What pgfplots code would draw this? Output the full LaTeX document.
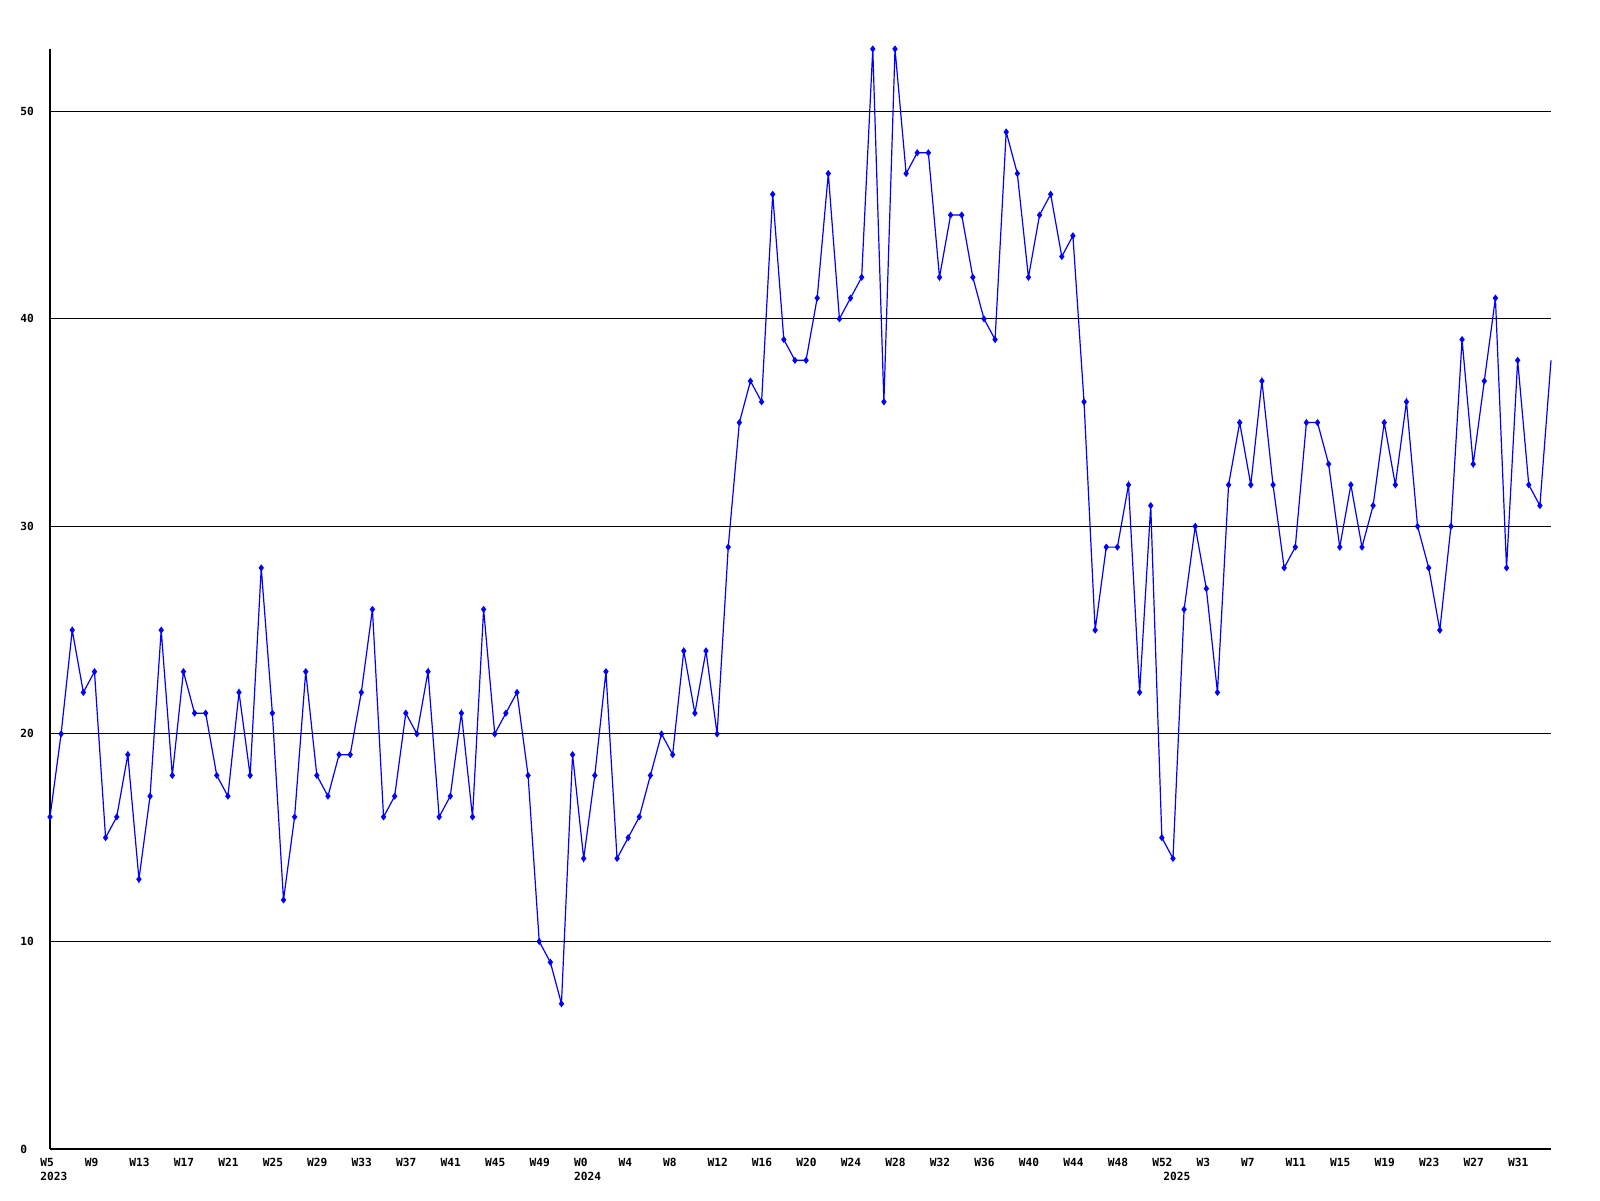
\documentclass[border=0pt]{standalone}
\usepackage{fontspec}
\setmonofont{DejaVu Sans Mono}
\usepackage{pgfplots}
\pgfplotsset{compat=1.18}
\newcommand{\tickfont}{\ttfamily\bfseries\fontsize{5.6}{6}\selectfont}
\begin{document}
\begin{tikzpicture}
\useasboundingbox (-25pt,-25.5pt) rectangle (775pt,574.5pt);
\begin{axis}[
  at={(0pt,0pt)}, anchor=south west,
  scale only axis, width=750.5pt, height=550pt,
  xmin=0, xmax=135, ymin=0, ymax=53,
  axis x line*=bottom, axis y line*=left,
  axis line style={black, line width=0.6pt},
  major tick length=0pt,
  ytick={0,10,20,30,40,50},
  yticklabels={0,10,20,30,40,50},
  ymajorgrids, grid style={black, line width=0.5pt},
  xtick={0,4,...,132},
  xticklabels={W5,W9,W13,W17,W21,W25,W29,W33,W37,W41,W45,W49,W0,W4,W8,W12,W16,W20,W24,W28,W32,W36,W40,W44,W48,W52,W3,W7,W11,W15,W19,W23,W27,W31},
  xticklabel style={font=\tickfont, anchor=north west, inner sep=0pt, xshift=-5pt, yshift=-4.5pt},
  yticklabel style={font=\tickfont, anchor=west, inner sep=0pt, xshift=-15pt},
  clip=false,
]
\addplot[color={rgb,255:red,0;green,0;blue,255}, line width=0.6pt, mark=diamond*, mark size=1.3pt, mark indices={1,...,135}, mark options={fill={rgb,255:red,0;green,0;blue,255}}] coordinates {
(0,16) (1,20) (2,25) (3,22) (4,23) (5,15) (6,16) (7,19) (8,13) (9,17)
(10,25) (11,18) (12,23) (13,21) (14,21) (15,18) (16,17) (17,22) (18,18) (19,28)
(20,21) (21,12) (22,16) (23,23) (24,18) (25,17) (26,19) (27,19) (28,22) (29,26)
(30,16) (31,17) (32,21) (33,20) (34,23) (35,16) (36,17) (37,21) (38,16) (39,26)
(40,20) (41,21) (42,22) (43,18) (44,10) (45,9) (46,7) (47,19) (48,14) (49,18)
(50,23) (51,14) (52,15) (53,16) (54,18) (55,20) (56,19) (57,24) (58,21) (59,24)
(60,20) (61,29) (62,35) (63,37) (64,36) (65,46) (66,39) (67,38) (68,38) (69,41)
(70,47) (71,40) (72,41) (73,42) (74,53) (75,36) (76,53) (77,47) (78,48) (79,48)
(80,42) (81,45) (82,45) (83,42) (84,40) (85,39) (86,49) (87,47) (88,42) (89,45)
(90,46) (91,43) (92,44) (93,36) (94,25) (95,29) (96,29) (97,32) (98,22) (99,31)
(100,15) (101,14) (102,26) (103,30) (104,27) (105,22) (106,32) (107,35) (108,32) (109,37)
(110,32) (111,28) (112,29) (113,35) (114,35) (115,33) (116,29) (117,32) (118,29) (119,31)
(120,35) (121,32) (122,36) (123,30) (124,28) (125,25) (126,30) (127,39) (128,33) (129,37)
(130,41) (131,28) (132,38) (133,32) (134,31) (135,38)
};
\node[font=\tickfont, anchor=north west, inner sep=0pt, xshift=-5pt, yshift=-11.5pt] at (axis cs:0,0) {2023};
\node[font=\tickfont, anchor=north west, inner sep=0pt, xshift=-5pt, yshift=-11.5pt] at (axis cs:48,0) {2024};
\node[font=\tickfont, anchor=north west, inner sep=0pt, xshift=-5pt, yshift=-11.5pt] at (axis cs:101,0) {2025};
\end{axis}
\end{tikzpicture}
\end{document}
